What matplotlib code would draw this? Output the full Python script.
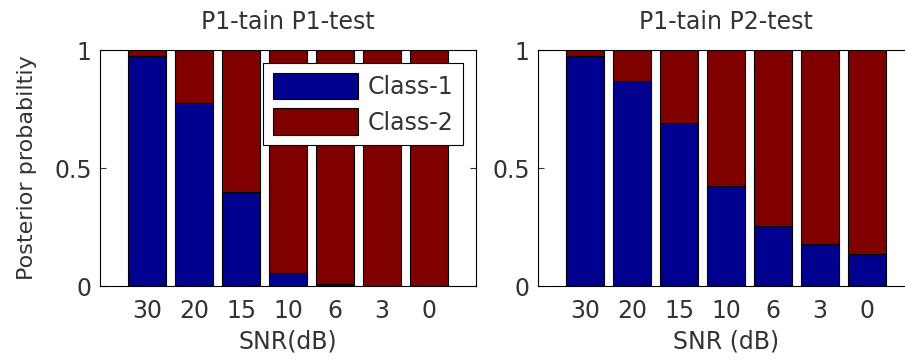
import matplotlib
matplotlib.use('Agg')
import matplotlib.pyplot as plt
import numpy as np

plt.rcParams['font.family'] = ['DejaVu Sans']

# 后验概率数据（两类，按信噪比排列）
snr_labels = ['30', '20', '15', '10', '6', '3', '0']
p1test_class1 = [0.975, 0.775, 0.400, 0.057, 0.007, 0.0, 0.0]
p1test_class2 = [0.025, 0.225, 0.600, 0.943, 0.993, 1.0, 1.0]
p2test_class1 = [0.976, 0.869, 0.689, 0.425, 0.254, 0.178, 0.136]
p2test_class2 = [0.024, 0.131, 0.311, 0.575, 0.746, 0.822, 0.864]

titles = ['P1-tain P1-test', 'P1-tain P2-test']
xlabels = ['SNR(dB)', 'SNR (dB)']

COLOR_C1 = '#00008f'
COLOR_C2 = '#800000'
TXT = '#333333'
FS = 17

fig = plt.figure(figsize=(9.05, 3.62), dpi=100)
W, H = 905.0, 362.0
ax_left = fig.add_axes([100 / W, 76 / H, 376 / W, 236 / H])
ax_right = fig.add_axes([538 / W, 76 / H, 376 / W, 236 / H])

x = np.arange(1, len(snr_labels) + 1)
panels = [(ax_left, p1test_class1, p1test_class2),
          (ax_right, p2test_class1, p2test_class2)]

for i, (ax, c1, c2) in enumerate(panels):
    ax.bar(x, c1, width=0.8, color=COLOR_C1, edgecolor='black',
           linewidth=0.8, label='Class-1')
    ax.bar(x, c2, width=0.8, bottom=c1, color=COLOR_C2,
           edgecolor='black', linewidth=0.8, label='Class-2')
    ax.set_xlim(0, 8)
    ax.set_ylim(0, 1)
    ax.set_xticks(x)
    ax.set_xticklabels(snr_labels)
    ax.set_yticks([0, 0.5, 1])
    ax.set_yticklabels(['0', '0.5', '1'])
    ax.tick_params(axis='x', length=0, labelsize=FS, pad=9, colors=TXT)
    ax.tick_params(axis='y', direction='in', length=4, width=0.8,
                   left=True, right=True, labelsize=FS, pad=6, colors=TXT)
    for sp in ax.spines.values():
        sp.set_linewidth(0.8)
        sp.set_color('black')
    ax.set_title(titles[i], fontsize=FS, pad=15, color=TXT)
    ax.set_xlabel(xlabels[i], fontsize=FS, labelpad=5, color=TXT)

ax_left.set_ylabel('Posterior probabiltiy', fontsize=16, labelpad=12,
                   color=TXT)

leg = ax_left.legend(loc='upper right', fontsize=FS, frameon=True,
                     fancybox=False, framealpha=1, edgecolor='black',
                     handlelength=3.6, handleheight=1.35, handletextpad=0.4,
                     labelspacing=0.38, borderpad=0.42, borderaxespad=0.55)
leg.get_frame().set_linewidth(0.8)
for t in leg.get_texts():
    t.set_color(TXT)

fig.savefig('out.png', dpi=100, facecolor='white')
